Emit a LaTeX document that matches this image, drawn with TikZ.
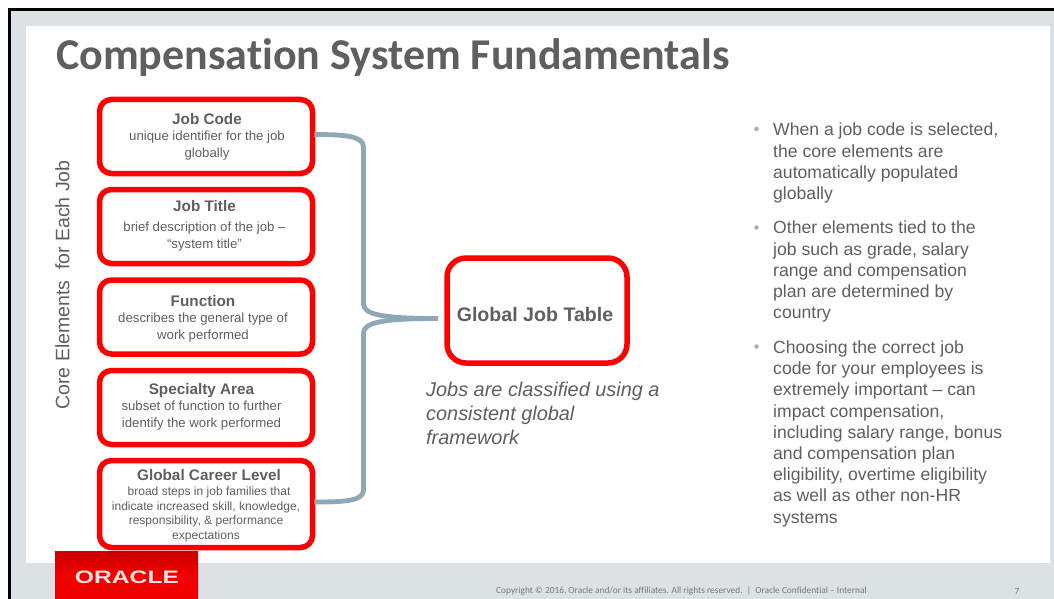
\documentclass[tikz,border=0pt]{standalone}
\usepackage{fontspec}
\setmainfont{Liberation Sans}
\newfontfamily\titlefont[Ligatures=NoCommon]{Carlito}
\usetikzlibrary{calc}
\definecolor{txt}{HTML}{5F5F5F}
\definecolor{band}{HTML}{DCE2E4}
\definecolor{brk}{HTML}{8FA8B5}
\definecolor{orared}{HTML}{F00000}
\definecolor{oradark}{HTML}{CC0000}
\definecolor{dotc}{HTML}{A3ADB2}
\tikzset{
 redbox/.style={draw=red,line width=5.5pt,rounded corners=12pt,fill=white,minimum width=213pt,inner sep=0pt},
 boxtext/.style={text=txt,align=center,inner sep=0pt,font=\fontsize{13.2}{16.6}\selectfont},
 bigbox/.style={draw=red,line width=5.5pt,rounded corners=19pt,fill=white,minimum width=180pt,minimum height=105pt,inner sep=0pt},
 brace/.style={draw=brk,line width=4.8pt,line join=round},
 bullets/.style={anchor=north west,text=txt,inner sep=0pt,align=left,font=\fontsize{17.6}{21.2}\selectfont},
 dot/.style={circle,fill=dotc,inner sep=0pt,minimum size=4.5pt},
}
\newcommand{\hd}[1]{{\fontsize{15.3}{17}\selectfont\bfseries #1}}
\begin{document}
\begin{tikzpicture}[x=1pt,y=-1pt]
\useasboundingbox (0,0) rectangle (1054,599);
\fill[white] (0,0) rectangle (1054,599);
\fill[band] (9,9) rectangle (1054,599);
\fill[white] (26,26) rectangle (1050,563);
\draw[black,line width=3pt] (9.5,599) -- (9.5,9.5) -- (1054,9.5);
\node[anchor=west,text=txt,inner sep=0pt,font=\titlefont\fontsize{44}{48}\selectfont\bfseries] (title) at (56,58) {Compensation System Fundamentals};
\node[rotate=90,text=txt,inner sep=0pt,font=\fontsize{19.5}{22}\selectfont] (side) at (62.5,285) {Core Elements\ \ for Each Job};
\node[redbox,minimum height=74pt] (b1) at (206,136.5) {};
\node[redbox,minimum height=74pt] (b2) at (206,226.5) {};
\node[redbox,minimum height=74pt] (b3) at (206,317) {};
\node[redbox,minimum height=74pt] (b4) at (206,407.5) {};
\node[redbox,minimum height=87pt] (b5) at (206,504) {};
\node[boxtext] (t1) at ($(b1)+(1,0)$) {\hd{Job Code}\\unique identifier for the job\\globally};
\node[boxtext] (t2) at ($(b2)+(-1.5,-1)$) {\hd{Job Title}\\[4pt]brief description of the job --\\``system title''};
\node[boxtext] (t3) at ($(b3)+(-3,1.5)$) {\hd{Function}\\describes the general type of\\work performed};
\node[boxtext] (t4) at ($(b4)+(-4.5,-1)$) {\hd{Specialty Area}\\subset of function to further\\identify the work performed};
\node[boxtext,font=\fontsize{12.05}{14.7}\selectfont] (t5) at ($(b5)+(0,2)$) {\hspace*{6pt}\hd{Global Career Level}\\\hspace*{6pt}broad steps in job families that\\indicate increased skill, knowledge,\\responsibility, \& performance\\expectations};
\node[bigbox] (gjt) at (537,310.5) {};
\node[text=txt,inner sep=0pt,font=\fontsize{19.6}{22}\selectfont\bfseries] (gjtx) at ($(gjt)+(-2,4)$) {Global Job Table};
\coordinate (tip) at (438,318.5);
\draw[brace] ($(b1.east)+(-1,-2)$) .. controls (345,134.5) and (363.5,136) .. (363.5,147) -- (363.5,304) .. controls (363.5,315) and (385,318.5) .. (tip);
\draw[brace] ($(b5.east)+(-1,-2)$) .. controls (345,502) and (363.5,501) .. (363.5,490) -- (363.5,333) .. controls (363.5,322) and (385,318.5) .. (tip);
\node[anchor=north west,text=txt,align=left,inner sep=0pt,font=\fontsize{19.9}{24}\selectfont\itshape] (note) at (426,382) {Jobs are classified using a\\consistent global\\framework};
\node[bullets] (p1) at (773,123) {When a job code is selected,\\the core elements are\\automatically populated\\globally};
\node[bullets] (p2) at (773,221) {Other elements tied to the\\job such as grade, salary\\range and compensation\\plan are determined by\\country};
\node[bullets] (p3) at (773,340.5) {Choosing the correct job\\code for your employees is\\extremely important -- can\\impact compensation,\\including salary range, bonus\\and compensation plan\\eligibility, overtime eligibility\\as well as other non-HR\\systems};
\node[dot] (d1) at (756.5,129) {};
\node[dot] (d2) at (756.5,227.5) {};
\node[dot] (d3) at (756.5,346.5) {};
\node[anchor=north west,minimum width=143pt,minimum height=48pt,inner sep=0pt,top color=oradark,bottom color=orared,middle color=orared] (logo) at (55,551) {};
\node[text=white!88!red,inner sep=0pt,font=\fontsize{18}{20}\selectfont\bfseries] (ora) at (127,577.5) {\scalebox{1.37}[1]{ORACLE}};
\node[anchor=west,text=txt!85!white,inner sep=0pt,font=\titlefont\fontsize{9.36}{11}\selectfont] (foot) at (496,591) {Copyright © 2016, Oracle and/or its affiliates. All rights reserved.\ \ |\ \ Oracle Confidential – Internal};
\node[text=txt!85!white,inner sep=0pt,font=\titlefont\fontsize{9.36}{11}\selectfont] (pg) at (1017,591) {7};
\end{tikzpicture}
\end{document}
